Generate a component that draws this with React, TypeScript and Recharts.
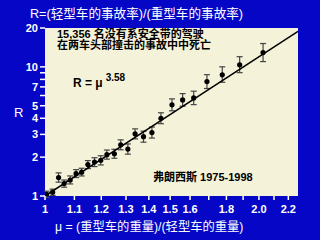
import { ScatterChart, Scatter, XAxis, YAxis, CartesianGrid, ErrorBar } from "recharts";

// mass ratio (heavy / light) for each bin
const muValues = [
  1.005, 1.025, 1.045, 1.064, 1.085, 1.106, 1.126, 1.149, 1.174, 1.198, 1.222, 1.252, 1.278,
  1.308, 1.339, 1.376, 1.414, 1.456, 1.509, 1.562, 1.619, 1.69, 1.776, 1.879, 2.027,
];
// fatality risk ratio (light / heavy)
const rValues = [
  1.03, 1.07, 1.39, 1.25, 1.33, 1.49, 1.53, 1.75, 1.83, 1.89, 2.09, 2.12, 2.49,
  2.31, 3.03, 2.88, 3.1, 4.0, 5.08, 5.55, 5.75, 7.7, 8.68, 10.38, 12.9,
];
const errLow = [
  0.06, 0.06, 0.11, 0.08, 0.09, 0.1, 0.1, 0.12, 0.14, 0.15, 0.16, 0.16, 0.21,
  0.2, 0.26, 0.27, 0.29, 0.37, 0.51, 0.59, 0.65, 0.9, 1.08, 1.36, 1.91,
];
const errHigh = [
  0.06, 0.06, 0.12, 0.08, 0.1, 0.11, 0.11, 0.13, 0.15, 0.16, 0.18, 0.18, 0.23,
  0.22, 0.28, 0.3, 0.32, 0.41, 0.57, 0.66, 0.73, 1.0, 1.33, 1.61, 2.26,
];

// fitted line R = mu^3.58, end points
const fitMu = [1, 2.27];
const fitR = [1, 18.8];

const xTicks = [1, 1.1, 1.2, 1.3, 1.4, 1.5, 1.6, 1.7, 1.8, 1.9, 2.0, 2.1, 2.2];
const xHidden = [1.7, 1.9, 2.1];
const yTicks = [1, 2, 3, 4, 5, 6, 7, 8, 9, 10, 20];
const yHidden = [6, 8, 9];

const points = muValues.map((mu, i) => ({ mu, r: rValues[i], err: [errLow[i], errHigh[i]] }));
const fitLine = fitMu.map((mu, i) => ({ mu, r: fitR[i] }));

const BLUE = "#0606c6";
const FONT = '"Liberation Sans", "Noto Sans CJK SC", Arial, sans-serif';
const CJK = '"Liberation Sans", "Noto Sans CJK SC", sans-serif';

const tickStyle = { fill: "#fff", fontSize: 11, fontWeight: 700, fontFamily: FONT };

const Dot = (props: any) => <circle cx={props.cx} cy={props.cy} r={2.6} fill="#000" />;
const NoDot = () => <g />;

export default function App() {
  return (
    <div
      style={{
        position: "absolute",
        left: 0,
        top: 0,
        width: 320,
        height: 240,
        background: BLUE,
        overflow: "hidden",
        fontFamily: FONT,
      }}
    >
      <ScatterChart width={320} height={240} margin={{ top: 28, right: 22, bottom: 0, left: 0 }}>
        <CartesianGrid fill="#f4f2d9" stroke="none" horizontal={false} vertical={false} />
        <XAxis
          type="number"
          dataKey="mu"
          scale="log"
          domain={[1, 2.27]}
          allowDataOverflow
          ticks={xTicks}
          interval={0}
          height={44}
          axisLine={false}
          tickLine={{ stroke: "#fff", strokeWidth: 1.5 }}
          tickSize={4}
          tickMargin={5}
          tick={tickStyle}
          tickFormatter={(v: number) => (xHidden.includes(v) ? "" : v === 1 ? "1" : v.toFixed(1))}
        />
        <YAxis
          type="number"
          dataKey="r"
          scale="log"
          domain={[1, 20]}
          allowDataOverflow
          ticks={yTicks}
          interval={0}
          width={45}
          axisLine={false}
          tickLine={{ stroke: "#fff", strokeWidth: 1.5 }}
          tickSize={5}
          tickMargin={2}
          tick={tickStyle}
          tickFormatter={(v: number) => (yHidden.includes(v) ? "" : String(v))}
        />
        <Scatter
          data={fitLine}
          shape={NoDot}
          line={{ stroke: "#000", strokeWidth: 1.5 }}
          isAnimationActive={false}
        />
        <Scatter data={points} shape={Dot} isAnimationActive={false}>
          <ErrorBar dataKey="err" direction="y" width={3} stroke="#444" strokeWidth={1.2} />
        </Scatter>
      </ScatterChart>

      <div style={{ position: "absolute", left: 30, top: 5, color: "#fff", fontSize: 12.6, lineHeight: "18px", fontFamily: CJK, whiteSpace: "nowrap" }}>
        R=(轻型车的事故率)/(重型车的事故率)
      </div>
      <div style={{ position: "absolute", left: 55, top: 218, color: "#fff", fontSize: 12.3, lineHeight: "18px", fontFamily: CJK, whiteSpace: "nowrap" }}>
        μ = (重型车的重量)/(轻型车的重量)
      </div>
      <div style={{ position: "absolute", left: 14, top: 105, color: "#fff", fontSize: 13, lineHeight: "16px" }}>R</div>

      <div style={{ position: "absolute", left: 57, top: 29, color: "#000", fontSize: 11, fontWeight: 700, lineHeight: "11px", fontFamily: CJK, whiteSpace: "nowrap" }}>
        15,356 名没有系安全带的驾驶
        <br />
        在两车头部撞击的事故中中死亡
      </div>
      <div style={{ position: "absolute", left: 73, top: 75, color: "#000", fontSize: 12, fontWeight: 700, lineHeight: "16px", whiteSpace: "nowrap" }}>
        R = μ
        <span style={{ fontSize: 10, position: "relative", top: -6, marginLeft: 3 }}>3.58</span>
      </div>
      <div style={{ position: "absolute", left: 153, top: 170, color: "#000", fontSize: 11, fontWeight: 700, lineHeight: "15px", fontFamily: CJK, whiteSpace: "nowrap" }}>
        弗朗西斯 1975-1998
      </div>
    </div>
  );
}
